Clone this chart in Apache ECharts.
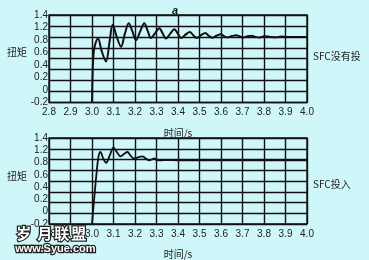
<!DOCTYPE html>
<html>
<head>
<meta charset="utf-8">
<script src="https://cdn.jsdelivr.net/npm/echarts@6/dist/echarts.min.js"></script>
<style>
html,body{margin:0;padding:0;background:#cff7fa;}
#c{width:369px;height:260px;}
</style>
</head>
<body>
<div id="c"></div>
<script>
// x-axis range / tick labels
var xMin = 2.8, xMax = 4.0, xStep = 0.1;
// y tick labels as printed on the original (note: no "1.0")
var yTickLabels = ['-0.2', '0', '0.2', '0.4', '0.6', '0.8', '1.2', '1.4'];

// upper panel: SFC not engaged
var timeA = [3.000, 3.003, 3.008, 3.016, 3.028, 3.045, 3.065, 3.082, 3.096, 3.115, 3.135, 3.153, 3.171, 3.188, 3.205, 3.224, 3.243, 3.259, 3.274, 3.294, 3.313, 3.329, 3.344, 3.364, 3.383, 3.399, 3.414, 3.435, 3.455, 3.471, 3.487, 3.507, 3.527, 3.543, 3.559, 3.579, 3.599, 3.615, 3.631, 3.651, 3.671, 3.687, 3.703, 3.723, 3.743, 3.760, 3.780, 3.800, 3.830, 3.860, 3.880, 3.910, 3.940, 3.970, 4.000];
var torqueA = [-0.20, 0.35, 0.72, 0.88, 0.97, 0.74, 0.55, 0.92, 1.22, 1.00, 0.82, 1.06, 1.25, 1.10, 0.94, 1.10, 1.25, 1.11, 0.98, 1.07, 1.16, 1.06, 0.97, 1.06, 1.14, 1.06, 0.98, 1.04, 1.09, 1.03, 0.98, 1.03, 1.07, 1.02, 0.985, 1.02, 1.05, 1.01, 0.99, 1.015, 1.03, 1.01, 0.99, 1.01, 1.02, 1.00, 0.99, 1.01, 1.00, 0.995, 1.005, 1.00, 1.00, 1.00, 1.00];

// lower panel: SFC engaged
var timeB = [3.000, 3.010, 3.020, 3.030, 3.039, 3.052, 3.066, 3.083, 3.100, 3.117, 3.133, 3.148, 3.164, 3.180, 3.195, 3.214, 3.234, 3.250, 3.266, 3.278, 3.289, 3.300, 3.320, 3.350, 3.400, 3.500, 3.600, 3.700, 3.800, 3.900, 4.000];
var torqueB = [-0.20, 0.26, 0.70, 1.05, 1.14, 1.02, 0.94, 1.08, 1.22, 1.13, 1.06, 1.10, 1.14, 1.07, 1.02, 1.04, 1.06, 1.02, 0.985, 1.00, 1.02, 0.99, 0.985, 0.99, 0.985, 0.985, 0.985, 0.985, 0.985, 0.985, 0.985];

// watermark characters
var wmChars = ['岁', '月', '联', '盟'];
var wmUrl = 'www.Syue.com';

function pairs(t, v){ return t.map(function(x,i){ return [x, v[i]]; }); }

var gridLine = {show:true, lineStyle:{color:'#111', width:1.4}};
var labelFont = {color:'#222', fontSize:10, fontFamily:'Liberation Sans, Arial, sans-serif'};

function xAx(gi, top){
  return {
    type:'value', gridIndex:gi, min:xMin, max:xMax, interval:xStep,
    axisLine:{show:false}, axisTick:{show:false},
    splitLine:gridLine,
    axisLabel:Object.assign({margin:5, formatter:function(v){return v.toFixed(1);}}, labelFont),
    name:'时间/s', nameLocation:'middle', nameGap: top ? 26 : 25,
    nameTextStyle:{color:'#222', fontSize:10, fontFamily:'Noto Sans CJK SC, sans-serif'}
  };
}
function yAxMain(gi){
  return {
    type:'value', gridIndex:gi, min:-0.2, max:1.4, interval:0.2,
    axisLine:{show:false}, axisTick:{show:false}, axisLabel:{show:false},
    splitLine:gridLine
  };
}
function yAxLabels(gi){
  return {
    type:'category', gridIndex:gi, data:yTickLabels, boundaryGap:false, position:'left',
    axisLine:{show:false}, axisTick:{show:false}, splitLine:{show:false},
    axisLabel:Object.assign({margin:1, interval:0}, labelFont)
  };
}

var wmPos = [15, 36, 53, 70];
var graphics = [
  {type:'text', left:7, top:47, style:{text:'扭矩', fontSize:10, fill:'#222', fontFamily:'Noto Sans CJK SC, sans-serif'}},
  {type:'text', left:7, top:171, style:{text:'扭矩', fontSize:10, fill:'#222', fontFamily:'Noto Sans CJK SC, sans-serif'}},
  {type:'text', left:313, top:51, style:{text:'SFC没有投', fontSize:10, fill:'#222', fontFamily:'Noto Sans CJK SC, sans-serif'}},
  {type:'text', left:313, top:179, style:{text:'SFC投入', fontSize:10, fill:'#222', fontFamily:'Noto Sans CJK SC, sans-serif'}},
  {type:'text', left:14, top:242, z:100, style:{text:wmUrl, fontSize:11, fontWeight:'bold', fill:'#ffffff', stroke:'#222', lineWidth:2.5, fontFamily:'Liberation Sans, Arial, sans-serif'}}
];
wmChars.forEach(function(ch, i){
  graphics.push({type:'text', left:wmPos[i], top:225, z:100, style:{text:ch, fontSize:15, fontWeight:'bold', fill:'#ffffff', stroke:'#222', lineWidth:2.5, fontFamily:'Noto Sans CJK SC, sans-serif'}});
});

var chart = echarts.init(document.getElementById('c'), null, {renderer:'canvas'});
chart.setOption({
  backgroundColor:'#cff7fa',
  animation:false,
  title:{text:'a', left:167, top:0, textStyle:{fontStyle:'italic', fontWeight:'bold', fontSize:11, color:'#111', fontFamily:'Liberation Sans, Arial, sans-serif'}},
  grid:[
    {left:49, width:258, top:15, height:87.5, show:true, borderColor:'#111', borderWidth:1.4, backgroundColor:'transparent'},
    {left:49, width:258, top:138, height:88.5, show:true, borderColor:'#111', borderWidth:1.4, backgroundColor:'transparent'}
  ],
  xAxis:[xAx(0,true), xAx(1,false)],
  yAxis:[yAxMain(0), yAxMain(1), yAxLabels(0), yAxLabels(1)],
  series:[
    {type:'line', xAxisIndex:0, yAxisIndex:0, data:pairs(timeA, torqueA), smooth:0.35, showSymbol:false,
     lineStyle:{color:'#111', width:2}},
    {type:'line', xAxisIndex:1, yAxisIndex:1, data:pairs(timeB, torqueB), smooth:0.35, showSymbol:false,
     lineStyle:{color:'#111', width:1.8}}
  ],
  graphic:graphics
});
</script>
</body>
</html>
